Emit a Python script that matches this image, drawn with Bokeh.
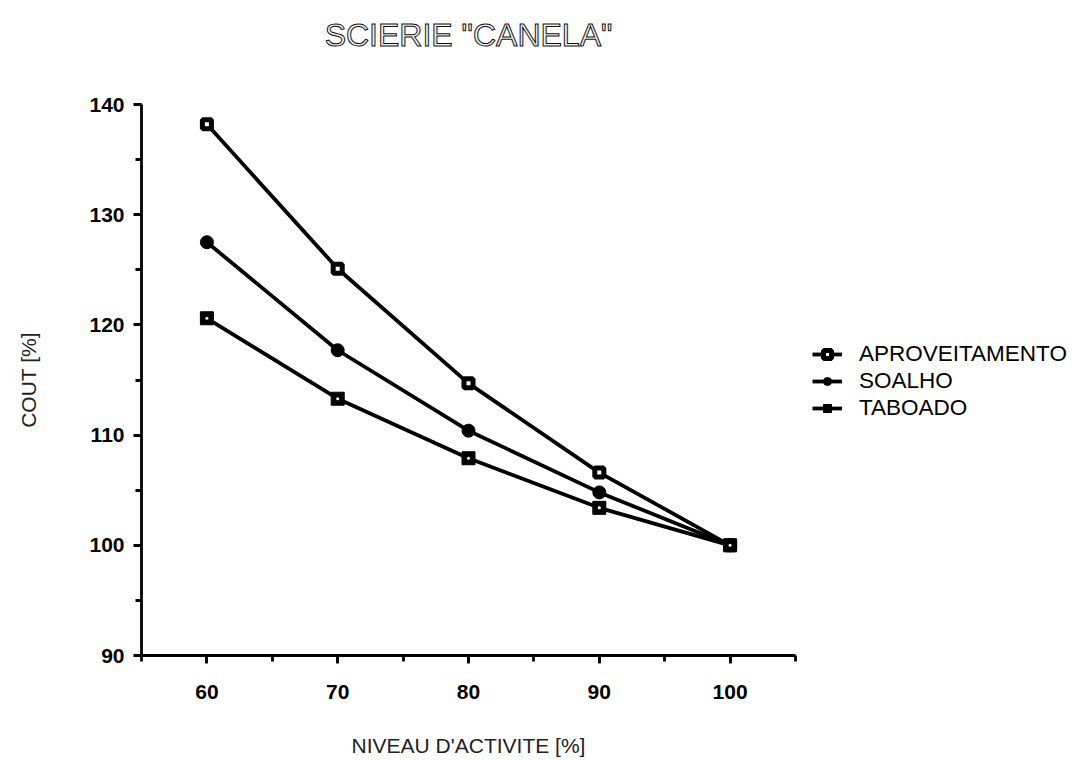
from bokeh.plotting import figure
from bokeh.models import Legend, LegendItem, SingleIntervalTicker, Title
from bokeh.embed import file_html
from bokeh.resources import INLINE

# ---- data ----
activity = [60, 70, 80, 90, 100]
aproveitamento = [138.2, 125.1, 114.7, 106.6, 100.0]
soalho = [127.5, 117.7, 110.4, 104.8, 100.0]
taboado = [120.6, 113.3, 107.9, 103.4, 100.0]
series_names = ["APROVEITAMENTO", "SOALHO", "TABOADO"]

FONT = "Liberation Sans"

p = figure(frame_width=654, frame_height=551,
           x_range=(55, 105), y_range=(90, 140),
           min_border_left=141, min_border_top=104, min_border_bottom=97,
           min_border_right=274,
           output_backend="svg", toolbar_location=None,
           background_fill_color="white", border_fill_color="white")
p.outline_line_color = None
p.grid.visible = False

# spacer between title and frame (closest to the frame)
spacer = Title(text=" ", text_font_size="20px", standoff=28, text_color="white")
p.add_layout(spacer, "above")

p.title.text = 'SCIERIE "CANELA"'
p.title.align = "center"
p.title.text_font = FONT
p.title.text_font_size = "32px"
p.title.text_font_style = "normal"
p.title.text_color = "#f4f4f4"
p.title.text_outline_color = "#111111"
p.title.standoff = 0

# axes
for ax in (p.xaxis[0], p.yaxis[0]):
    ax.axis_line_width = 2.8
    ax.axis_line_color = "black"
    ax.major_tick_line_width = 2.8
    ax.minor_tick_line_width = 2.8
    ax.major_tick_line_color = "black"
    ax.minor_tick_line_color = "black"
    ax.major_tick_out = 8
    ax.major_tick_in = 0
    ax.minor_tick_out = 6
    ax.minor_tick_in = 0
    ax.major_label_text_font = FONT
    ax.major_label_text_font_style = "bold"
    ax.major_label_text_font_size = "21px"
    ax.major_label_text_color = "black"
    ax.axis_label_text_font = FONT
    ax.axis_label_text_font_style = "normal"
    ax.axis_label_text_font_size = "21px"
    ax.axis_label_text_color = "#222222"

p.xaxis.ticker = SingleIntervalTicker(interval=10, num_minor_ticks=2)
p.yaxis.ticker = SingleIntervalTicker(interval=10, num_minor_ticks=2)
p.xaxis.axis_label = "NIVEAU D'ACTIVITE [%]"
p.yaxis.axis_label = "COUT [%]"
p.xaxis.major_label_standoff = 21
p.yaxis.major_label_standoff = 9
p.xaxis.axis_label_standoff = 32
p.yaxis.axis_label_standoff = 46

LW = 3.8
# APROVEITAMENTO: open square with thick border
l1 = p.line(activity, aproveitamento, line_color="black", line_width=LW)
m1 = p.scatter(activity, aproveitamento, marker="square", size=9,
               fill_color="white", line_color="black", line_width=5)
# SOALHO: filled dot
l2 = p.line(activity, soalho, line_color="black", line_width=LW)
m2 = p.scatter(activity, soalho, marker="circle", size=13,
               fill_color="black", line_color="black")
# TABOADO: filled square with tiny white center
l3 = p.line(activity, taboado, line_color="black", line_width=LW)
m3 = p.scatter(activity, taboado, marker="square", size=13,
               fill_color="black", line_color="black")
m3b = p.scatter(activity, taboado, marker="circle", size=3,
                fill_color="white", line_color=None)

legend = Legend(items=[
    LegendItem(label=series_names[0], renderers=[l1, m1]),
    LegendItem(label=series_names[1], renderers=[l2, m2]),
    LegendItem(label=series_names[2], renderers=[l3, m3]),
], location=(17, 234))
legend.margin = 0
legend.padding = 0
legend.spacing = 1
legend.glyph_width = 30
legend.glyph_height = 20
legend.label_height = 20
legend.label_standoff = 17
legend.label_text_font = FONT
legend.label_text_font_size = "22.5px"
legend.label_text_color = "black"
legend.border_line_color = None
legend.background_fill_alpha = 0
p.add_layout(legend, "right")

open("out.html", "w").write(file_html(p, INLINE))
